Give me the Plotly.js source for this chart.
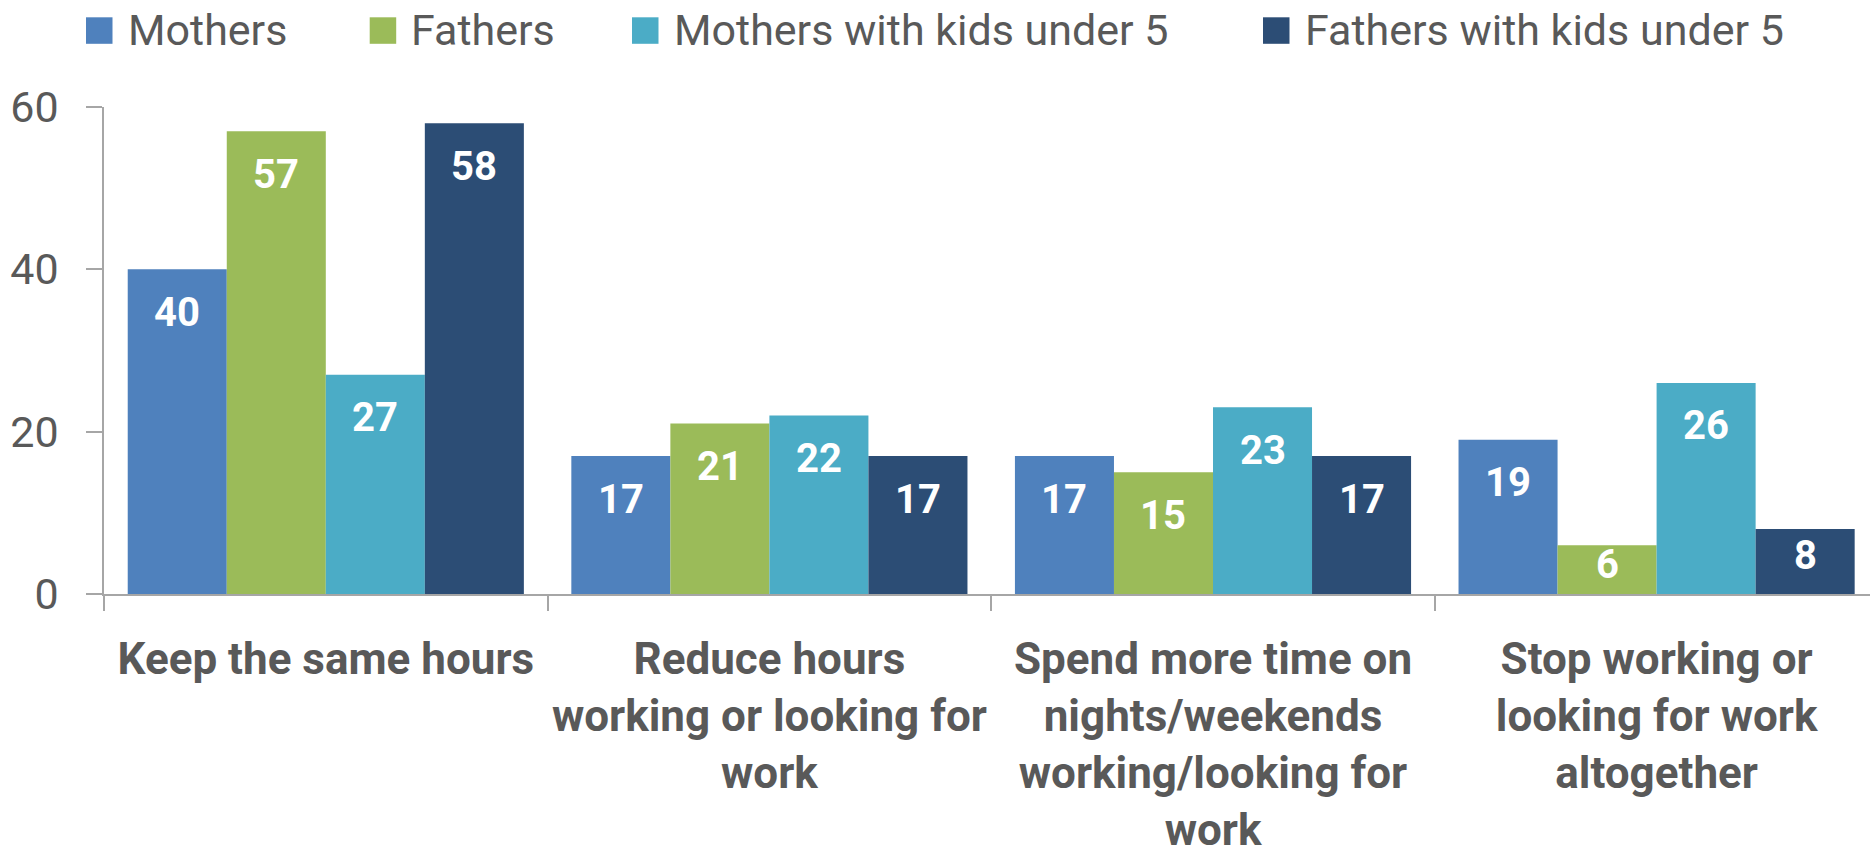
<!DOCTYPE html>
<html>
<head>
<meta charset="utf-8">
<script src="https://cdn.plot.ly/plotly-3.0.1.min.js"></script>
<style>
  html, body { margin: 0; padding: 0; background: #ffffff; }
  #chart { width: 1870px; height: 849px; }
</style>
</head>
<body>
<div id="chart"></div>
<script>
// ---- data ----
var categories = [
  "Keep the same hours",
  "Reduce hours<br>working or looking for<br>work",
  "Spend more time on<br>nights/weekends<br>working/looking for<br>work",
  "Stop working or<br>looking for work<br>altogether"
];
var seriesNames = ["Mothers", "Fathers", "Mothers with kids under 5", "Fathers with kids under 5"];
var mothers = [40, 17, 17, 19];
var fathers = [57, 21, 15, 6];
var mothersKidsUnder5 = [27, 22, 23, 26];
var fathersKidsUnder5 = [58, 17, 17, 8];
var yTickVals = [0, 20, 40, 60];

// ---- styles ----
var colors = ["#4F81BD", "#9BBB59", "#4BACC6", "#2C4D75"];
var textGrey = "#595959";
var axisGrey = "#A6A6A6";
var fontFamily = "Roboto, 'Liberation Sans', sans-serif";

var W = 1870, H = 849;
var margin = {l: 104, r: 0, t: 107, b: 255, pad: 0};
var plotW = W - margin.l - margin.r;
var plotH = H - margin.t - margin.b;
var bargap = 0.107;
var yMax = 60;
var catPx = 443.6;
var xRange = [-0.5, -0.5 + plotW / catPx];

var allSeries = [mothers, fathers, mothersKidsUnder5, fathersKidsUnder5];

var traces = allSeries.map(function (vals, i) {
  return {
    type: "bar",
    name: seriesNames[i],
    x: categories,
    y: vals,
    marker: {color: colors[i], line: {width: 0}},
    showlegend: false,
    hoverinfo: "x+y+name"
  };
});

// ---- data labels (inside end, white bold) ----
var annotations = [];
var nS = allSeries.length;
var slot = (1 - bargap) / nS;
var pxPerUnit = plotH / yMax;
allSeries.forEach(function (vals, i) {
  vals.forEach(function (v, j) {
    var barPx = v * pxPerUnit;
    var off = Math.min(43, 0.4 * barPx);
    annotations.push({
      xref: "x", yref: "y",
      x: j + (i - (nS - 1) / 2) * slot,
      y: v,
      text: String(v),
      showarrow: false,
      xanchor: "center", yanchor: "middle",
      yshift: -off,
      font: {family: fontFamily, size: 40, color: "#ffffff", weight: "bold"}
    });
  });
});

// ---- custom legend (large square swatches) ----
function pxX(p) { return (p - margin.l) / plotW; }
function pxY(p) { return 1 - (p - margin.t) / plotH; }
var legendStarts = [86, 369.7, 632, 1263];
var sw = 26.5, swTop = 17.3;
var shapes = [];
legendStarts.forEach(function (x0, i) {
  shapes.push({
    type: "rect", xref: "paper", yref: "paper",
    x0: pxX(x0), x1: pxX(x0 + sw), y0: pxY(swTop + sw), y1: pxY(swTop),
    fillcolor: colors[i], line: {width: 0}
  });
  annotations.push({
    xref: "paper", yref: "paper",
    x: pxX(x0 + sw + 13), y: pxY(30),
    xanchor: "left", yanchor: "middle",
    text: seriesNames[i], showarrow: false,
    font: {family: fontFamily, size: 43, color: textGrey}
  });
});

var layout = {
  width: W, height: H,
  margin: margin,
  paper_bgcolor: "#ffffff",
  plot_bgcolor: "#ffffff",
  barmode: "group",
  bargap: bargap,
  bargroupgap: 0,
  showlegend: false,
  font: {family: fontFamily, color: textGrey},
  xaxis: {
    type: "category",
    range: xRange,
    showline: true, linecolor: axisGrey, linewidth: 1.5,
    ticks: "outside", tickson: "boundaries", ticklen: 15, tickcolor: axisGrey, tickwidth: 1.5,
    showgrid: false, zeroline: false,
    tickangle: 0,
    ticklabelstandoff: 25,
    tickfont: {family: fontFamily, size: 44, color: textGrey, weight: "bold"},
    fixedrange: true
  },
  yaxis: {
    range: [0, yMax],
    tickvals: yTickVals,
    ticktext: yTickVals.map(String),
    showline: true, linecolor: axisGrey, linewidth: 1.5,
    ticks: "outside", ticklen: 16, tickcolor: axisGrey, tickwidth: 1.5,
    showgrid: false, zeroline: false,
    ticklabelstandoff: 19,
    tickfont: {family: fontFamily, size: 43, color: textGrey},
    fixedrange: true
  },
  shapes: shapes,
  annotations: annotations
};

Plotly.newPlot("chart", traces, layout, {displayModeBar: false, responsive: false});
</script>
</body>
</html>
